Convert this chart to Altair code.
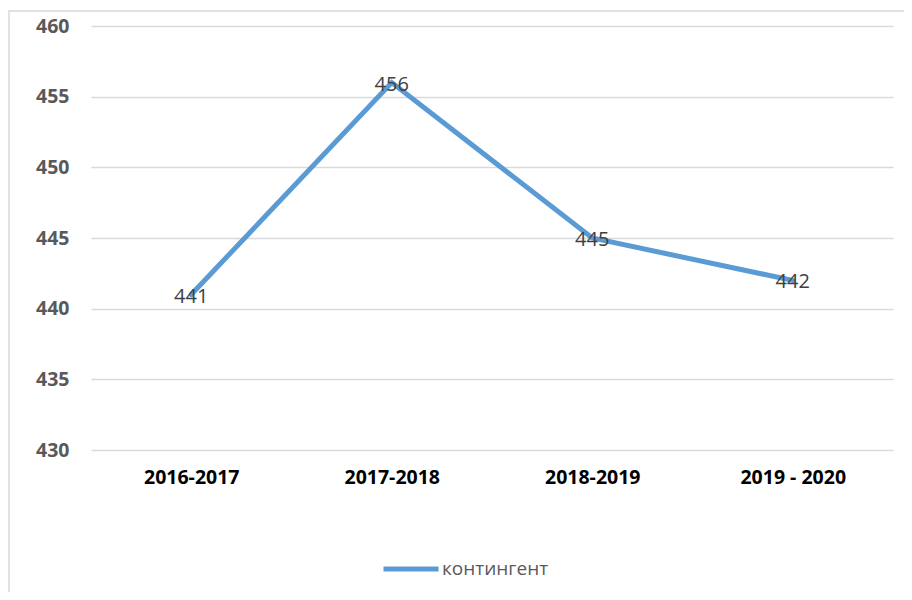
import altair as alt
import pandas as pd

years = ["2016-2017", "2017-2018", "2018-2019", "2019 - 2020"]
values = [441, 456, 445, 442]
series = ["контингент"] * 4

df = pd.DataFrame({"year": years, "value": values, "series": series})

FONT = "Open Sans"
BLUE = "#5b9bd5"

base = alt.Chart(df)

border = base.mark_rect(fill=None, stroke="#d9d9d9", strokeWidth=1.5).encode(
    x=alt.value(-82), x2=alt.value(840), y=alt.value(-15), y2=alt.value(620)
).transform_filter(alt.datum.year == "2016-2017")

line = base.mark_line(strokeWidth=5, strokeCap="round").encode(
    x=alt.X("year:N", sort=years,
            scale=alt.Scale(type="point", padding=0.5),
            axis=alt.Axis(title=None, labelAngle=0, domain=False, ticks=False,
                          labelFont=FONT, labelFontSize=19.5, labelFontWeight="bold",
                          labelColor="#000000", labelPadding=18, grid=False)),
    y=alt.Y("value:Q", scale=alt.Scale(domain=[430, 460], nice=False, zero=False),
            axis=alt.Axis(title=None, values=[430, 435, 440, 445, 450, 455, 460],
                          domain=False, ticks=False, labelFont=FONT, labelFontSize=19.5,
                          labelFontWeight="bold", labelColor="#595959", labelPadding=22,
                          gridColor="#d9d9d9", gridWidth=1.5)),
    color=alt.Color("series:N", scale=alt.Scale(range=[BLUE]),
                    legend=alt.Legend(title=None, orient="none", legendX=290, legendY=513,
                                      symbolType="stroke", symbolSize=3025,
                                      symbolStrokeWidth=5, labelFont=FONT,
                                      labelFontSize=19, labelColor="#595959",
                                      labelOffset=1)),
)

labels = base.mark_text(font=FONT, fontSize=20, color="#404040", dy=2).encode(
    x=alt.X("year:N", sort=years, scale=alt.Scale(type="point", padding=0.5)),
    y=alt.Y("value:Q"),
    text=alt.Text("value:Q"),
)

chart = alt.layer(border, line, labels).properties(
    width=802, height=424,
    autosize=alt.AutoSizeParams(type="none"),
    padding={"left": 83, "top": 18, "right": 11, "bottom": 142},
).configure_view(stroke=None)

chart.save("out.html", embed_options={"renderer": "svg", "actions": False})
